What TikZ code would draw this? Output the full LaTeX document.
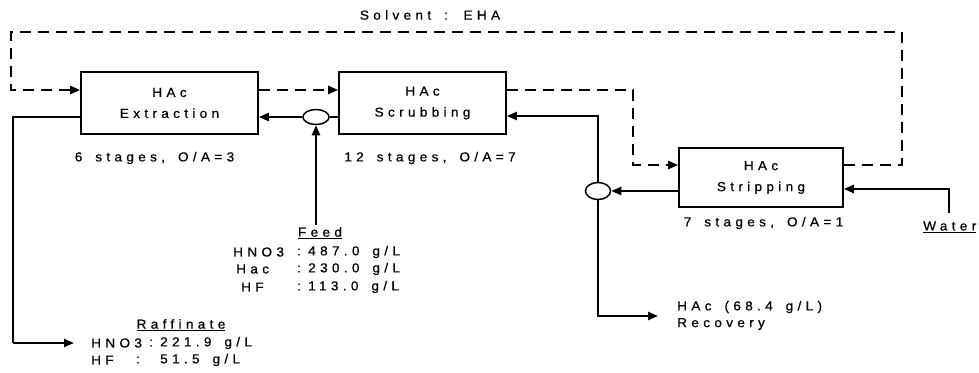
\documentclass[tikz,border=0pt]{standalone}
\usepackage{fontspec}
\setmainfont{Liberation Sans}[LetterSpace=33,WordSpace=1.6,FakeStretch=1.05,FakeBold=0.6]
\usetikzlibrary{arrows.meta,shapes.geometric}
\tikzset{
  box/.style={draw, line width=1.6pt, inner sep=0pt, align=center, font=\fontsize{13}{21}\selectfont},
  mixer/.style={draw, ellipse, line width=1.5pt, inner sep=0pt, fill=white},
  flow/.style={line width=2.3pt, -{Triangle[length=10pt,width=8pt]}},
  flownoarrow/.style={line width=2.3pt},
  solv/.style={line width=2.3pt, dash pattern=on 11pt off 7pt, -{Triangle[length=10pt,width=8pt]}},
  lbl/.style={inner sep=0pt, font=\fontsize{13}{17}\selectfont},
  lw/.style={lbl, anchor=west},
}
\begin{document}
\begin{tikzpicture}[x=1pt,y=-1pt]
\useasboundingbox[fill=white] (0,0) rectangle (979,372);
% boxes
\node[box, minimum width=177pt, minimum height=62pt] (ext) at (169.5,103) {HAc\\Extraction};
\node[box, minimum width=167pt, minimum height=62pt] (scr) at (422.5,103) {HAc\\Scrubbing};
\node[box, minimum width=164pt, minimum height=59pt] (str) at (761,177.5) {HAc\\Stripping};
% mixers
\node[mixer, minimum width=26pt, minimum height=15pt] (m1) at (316,117) {};
\node[mixer, minimum width=25pt, minimum height=17pt] (m2) at (598,191) {};
% free ends
\coordinate (feedin) at (316,225);
\coordinate (rafc) at (13,117);
\coordinate (rafd) at (13,343);
\coordinate (rafout) at (74,343);
\coordinate (recd) at (598,316);
\coordinate (recout) at (658,316);
\coordinate (waterin) at (949,213);
\coordinate (watc) at (949,189);
\coordinate (sA) at (902,32);
\coordinate (sB) at (11,32);
\coordinate (sC) at (11,90);
\coordinate (sD) at (633,90);
\coordinate (sE) at (902,165);
% solvent (dashed)
\draw[solv] (str.east |- sE) -- (sE) -- (sA) -- (sB) -- (sC) -- (ext.west |- sC);
\draw[solv] (ext.east |- sC) -- (scr.west |- sC);
\draw[solv] (scr.east |- sD) -- (sD) -- (sD |- sE) -- (str.west |- sE);
% aqueous (solid)
\draw[flownoarrow] (ext.west |- rafc) -- (rafc) -- (rafd);
\draw[flow] (rafd) -- (rafout);
\draw[flow] (feedin) -- (m1.south);
\draw[flow] (m1.west) -- (ext.east |- m1.west);
\draw[flownoarrow] (scr.west |- m1.east) -- (m1.east);
\draw[flow] (m2.north) -- (598,116) -- (scr.east |- 598,116);
\draw[flow] (str.west |- m2.east) -- (m2.east);
\draw[flow] (m2.south) -- (recd) -- (recout);
\draw[flow] (waterin) -- (watc) -- (str.east |- watc);
% labels
\node[lbl] (solvent) at (430,15) {Solvent : EHA};
\node[lbl] (st1) at (154.5,158) {6 stages, O/A=3};
\node[lbl] (st2) at (430,158) {12 stages, O/A=7};
\node[lbl] (st3) at (763.5,223) {7 stages, O/A=1};
% feed
\node[lbl] (feedh) at (320,233) {\underline{Feed}};
\node[lw] (f1a) at (233,252) {HNO3};
\node[lw] (f2a) at (236,269) {Hac};
\node[lw] (f3a) at (241,287) {HF};
\node[lbl] (f1c) at (299,252) {:};
\node[lbl] (f2c) at (299,269) {:};
\node[lbl] (f3c) at (299,287) {:};
\node[lw] (f1b) at (308,252) {487.0 g/L};
\node[lw] (f2b) at (308,269) {230.0 g/L};
\node[lw] (f3b) at (308,287) {113.0 g/L};
% raffinate
\node[lbl] (rafh) at (181,325) {\underline{Raffinate}};
\node[lw] (r1a) at (91,343) {HNO3};
\node[lbl] (r1c) at (151,343) {:};
\node[lw] (r1b) at (160,343) {221.9 g/L};
\node[lw] (r2a) at (91,360) {HF};
\node[lbl] (r2c) at (138,360) {:};
\node[lw] (r2b) at (160,360) {51.5 g/L};
% recovery, water
\node[lw] (rec1) at (677,307) {HAc (68.4 g/L)};
\node[lw] (rec2) at (677,324) {Recovery};
\node[lw] (water) at (923,227) {\underline{Water}};
\end{tikzpicture}
\end{document}
